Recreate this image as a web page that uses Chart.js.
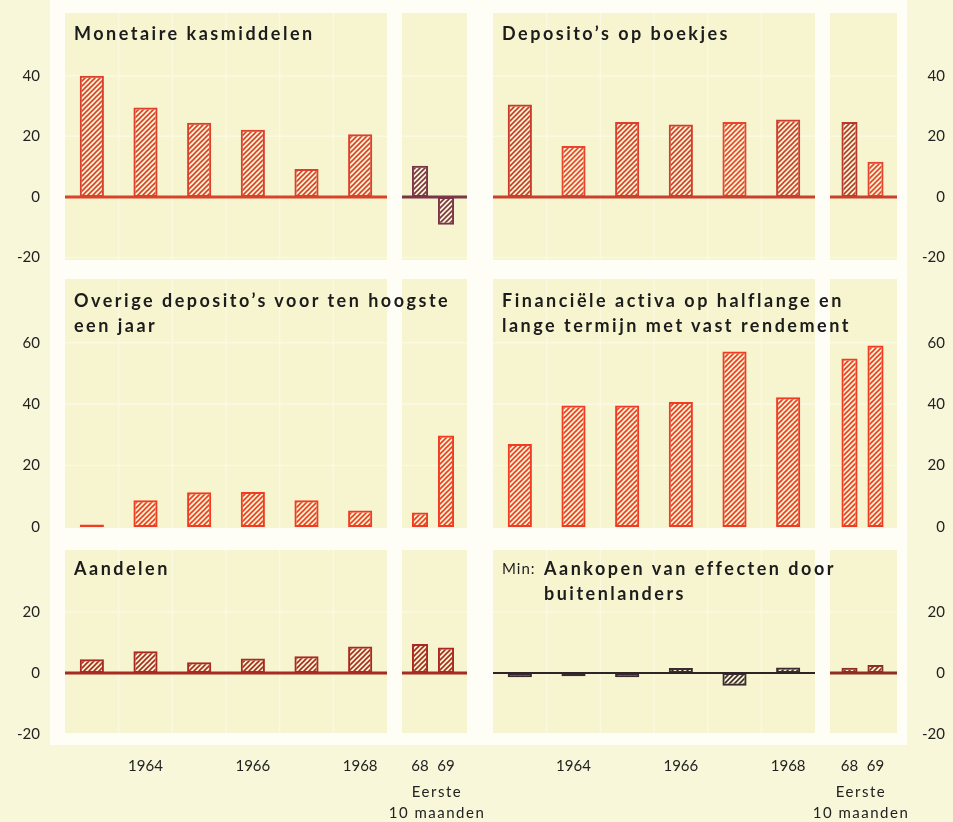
<!DOCTYPE html>
<html>
<head>
<meta charset="utf-8">
<script src="https://cdn.jsdelivr.net/npm/chart.js@4"></script>
<style>
  body { margin: 0; width: 953px; height: 822px; overflow: hidden; position: relative;
         background: #f9f7da; font-family: Lato, "Noto Sans", sans-serif; }
  .frame { position: absolute; left: 50px; top: 0; width: 857px; height: 745px; background: #fefef6; }
  .panel { position: absolute; background: #f7f5cf; }
  canvas { position: absolute; }
  .title { position: absolute; z-index: 5; font-weight: bold; font-size: 18px; letter-spacing: 2.5px;
           line-height: 25px; color: #1c1c1c; white-space: nowrap; }
  .min { position: absolute; z-index: 5; font-size: 15px; letter-spacing: 1px; line-height: 25px; color: #1c1c1c; }
  .note { position: absolute; z-index: 5; width: 130px; text-align: center; font-size: 15px; letter-spacing: 1.5px;
          line-height: 21px; color: #222; }
</style>
</head>
<body>
<div class="frame"></div>

<div class="title" style="left:74px; top:21px">Monetaire kasmiddelen</div>
<div class="title" style="left:502px; top:21px">Deposito’s op boekjes</div>
<div class="title" style="left:74px; top:288px">Overige deposito’s voor ten hoogste<br>een jaar</div>
<div class="title" style="left:502px; top:288px">Financiële activa op halflange en<br>lange termijn met vast rendement</div>
<div class="title" style="left:74px; top:556px">Aandelen</div>
<div class="min" style="left:502px; top:556px">Min:</div>
<div class="title" style="left:544px; top:556px">Aankopen van effecten door<br>buitenlanders</div>
<div class="note" style="left:372px; top:781px">Eerste<br>10 maanden</div>
<div class="note" style="left:796px; top:781px">Eerste<br>10 maanden</div>

<script>
// categories
const years = ['1963', '1964', '1965', '1966', '1967', '1968'];
const partYears = ['68', '69'];

// y tick labels per row
const yTicksTop = [-20, 0, 20, 40];
const yTicksMid = [0, 20, 40, 60];
const yTicksLow = [-20, 0, 20];

// series (mld. F)
const monetaireKas = [40, 29.5, 24.5, 22.2, 9.2, 20.7];
const monetaireKasPart = [10.3, -9.2];
const depositoBoekjes = [30.5, 16.8, 24.7, 23.9, 24.7, 25.6];
const depositoBoekjesPart = [24.7, 11.6];
const overigeDeposito = [0.8, 8.7, 11.3, 11.4, 8.7, 5.4];
const overigeDepositoPart = [4.7, 29.8];
const financieleActiva = [27, 39.6, 39.6, 40.7, 57.2, 42.3];
const financieleActivaPart = [54.9, 59.1];
const aandelen = [4.5, 7.1, 3.5, 4.7, 5.5, 8.7];
const aandelenPart = [9.5, 8.3];
const aankopenBuitenland = [-1.4, -1.1, -1.4, 1.6, -4.2, 1.8];
const aankopenBuitenlandPart = [1.7, 2.6];

// layout
const rows = [
  {top: 13, bottom: 260, min: -20.8, max: 60.7, ticks: yTicksTop},
  {top: 279, bottom: 528, min: -0.33, max: 80.8, ticks: yTicksMid},
  {top: 550, bottom: 733, min: -19.7, max: 40.3, ticks: yTicksLow}
];
const blocks = {
  L: {
    main: {cx: 0, cw: 397, panel: [65, 387], area: [65, 387], axis: 'left'},
    part: {cx: 380, cw: 110, panel: [402, 467], area: [407, 459], axis: null}
  },
  R: {
    main: {cx: 483, cw: 342, panel: [493, 815], area: [493, 815], axis: null},
    part: {cx: 800, cw: 145, panel: [830, 897], area: [836.5, 888.5], axis: 'right'}
  }
};

function hatch(color) {
  const s = 5;
  const c = document.createElement('canvas');
  c.width = s; c.height = s;
  const g = c.getContext('2d');
  g.strokeStyle = color;
  g.lineWidth = 1.6;
  g.beginPath();
  g.moveTo(0, s); g.lineTo(s, 0);
  g.moveTo(-s / 2, s / 2); g.lineTo(s / 2, -s / 2);
  g.moveTo(s / 2, s * 1.5); g.lineTo(s * 1.5, s / 2);
  g.stroke();
  return g.createPattern(c, 'repeat');
}

// faint white grid over the panel + the heavy zero line
const panelDecor = {
  id: 'panelDecor',
  beforeDatasetsDraw(chart, args, o) {
    const {ctx, chartArea: a, scales: {x, y}} = chart;
    ctx.save();
    ctx.strokeStyle = 'rgba(255,255,255,0.4)';
    ctx.lineWidth = 1.5;
    ctx.beginPath();
    o.ticks.forEach(v => {
      if (v === 0) return;
      const py = y.getPixelForValue(v);
      ctx.moveTo(o.left, py); ctx.lineTo(o.right, py);
    });
    if (o.vGrid) {
      for (let i = 1; i < x.ticks.length; i++) {
        const px = (x.getPixelForTick(i - 1) + x.getPixelForTick(i)) / 2;
        ctx.moveTo(px, a.top); ctx.lineTo(px, a.bottom);
      }
    }
    ctx.stroke();
    ctx.restore();
  },
  afterDatasetsDraw(chart, args, o) {
    if (!o.zeroColor) return;
    const {ctx, scales: {y}} = chart;
    const py = y.getPixelForValue(0);
    ctx.save();
    ctx.strokeStyle = o.zeroColor;
    ctx.lineWidth = o.zeroWidth;
    ctx.beginPath();
    ctx.moveTo(o.left, py); ctx.lineTo(o.right, py);
    ctx.stroke();
    ctx.restore();
  }
};

const tickFont = {family: 'Lato, "Noto Sans", sans-serif', size: 15};
const MARGIN = 40;

function build(rowIdx, blockKey, part, labels, values, colors, zeroColor, zeroWidth) {
  const row = rows[rowIdx];
  const g = blocks[blockKey][part ? 'part' : 'main'];
  const last = rowIdx === rows.length - 1;

  const bg = document.createElement('div');
  bg.className = 'panel';
  bg.style.left = g.panel[0] + 'px';
  bg.style.top = row.top + 'px';
  bg.style.width = (g.panel[1] - g.panel[0]) + 'px';
  bg.style.height = (row.bottom - row.top) + 'px';
  document.body.appendChild(bg);

  const cy = row.top - MARGIN;
  const ch = last ? 822 - cy : row.bottom + MARGIN - cy;
  const cv = document.createElement('canvas');
  cv.width = g.cw; cv.height = ch;
  cv.style.left = g.cx + 'px';
  cv.style.top = cy + 'px';
  document.body.appendChild(cv);

  const leftAxisW = g.area[0] - g.cx;
  const rightAxisW = g.cx + g.cw - g.area[1];
  const cols = Array.isArray(colors) ? colors : values.map(() => colors);

  new Chart(cv.getContext('2d'), {
    type: 'bar',
    data: {
      labels: labels,
      datasets: [{
        data: values,
        backgroundColor: cols.map(hatch),
        borderColor: cols,
        borderWidth: 2,
        borderSkipped: false,
        barPercentage: part ? 0.62 : 0.45,
        categoryPercentage: 1
      }]
    },
    options: {
      responsive: false,
      animation: false,
      layout: {
        padding: {
          top: MARGIN,
          bottom: last ? 0 : MARGIN,
          left: g.axis === 'left' ? 0 : leftAxisW,
          right: g.axis === 'right' ? 0 : rightAxisW
        }
      },
      scales: {
        x: {
          display: last,
          grid: {display: false, drawTicks: true, tickLength: 24},
          border: {display: false},
          afterFit: s => { if (last) s.height = 822 - row.bottom; },
          ticks: {
            autoSkip: false, maxRotation: 0, padding: 0, color: '#222', font: tickFont,
            callback: function (v) {
              const lab = this.getLabelForValue(v);
              return (part || Number(lab) % 2 === 0) ? lab : '';
            }
          }
        },
        y: {
          display: !!g.axis,
          position: g.axis || 'left',
          min: row.min,
          max: row.max,
          afterBuildTicks: s => { s.ticks = row.ticks.map(v => ({value: v})); },
          afterFit: s => {
            if (g.axis) s.width = g.axis === 'right' ? rightAxisW : leftAxisW;
          },
          grid: {display: false, drawTicks: true, tickLength: g.axis === 'right' ? 23 : 25},
          border: {display: false},
          ticks: {
            padding: 0,
            crossAlign: g.axis === 'right' ? 'far' : 'near',
            color: '#222',
            font: tickFont
          }
        }
      },
      plugins: {
        legend: {display: false},
        tooltip: {enabled: false},
        panelDecor: {
          left: g.panel[0] - g.cx,
          right: g.panel[1] - g.cx,
          ticks: row.ticks,
          vGrid: !part,
          zeroColor: zeroColor,
          zeroWidth: zeroWidth
        }
      }
    },
    plugins: [panelDecor]
  });
}

build(0, 'L', false, years, monetaireKas, '#dc3f2b', '#d9432b', 3);
build(0, 'L', true, partYears, monetaireKasPart, '#7b3549', '#7b3549', 3);
build(0, 'R', false, years, depositoBoekjes, ['#c93a2a', '#e8452e', '#dc3f2b', '#d43d2c', '#e8452e', '#cf3d2c'], '#c9412c', 3);
build(0, 'R', true, partYears, depositoBoekjesPart, ['#b53a2c', '#e5452e'], '#c9412c', 3);

build(1, 'L', false, years, overigeDeposito, '#f03c22', null, 0);
build(1, 'L', true, partYears, overigeDepositoPart, '#f03c22', null, 0);
build(1, 'R', false, years, financieleActiva, '#ee3c25', null, 0);
build(1, 'R', true, partYears, financieleActivaPart, '#ee3c25', null, 0);

build(2, 'L', false, years, aandelen, '#a82a20', '#a82a20', 3);
build(2, 'L', true, partYears, aandelenPart, '#a82a20', '#a82a20', 3);
build(2, 'R', false, years, aankopenBuitenland, '#3b2b30', '#2e2426', 2);
build(2, 'R', true, partYears, aankopenBuitenlandPart, '#8d2f22', '#8d2f22', 3);
</script>
</body>
</html>
